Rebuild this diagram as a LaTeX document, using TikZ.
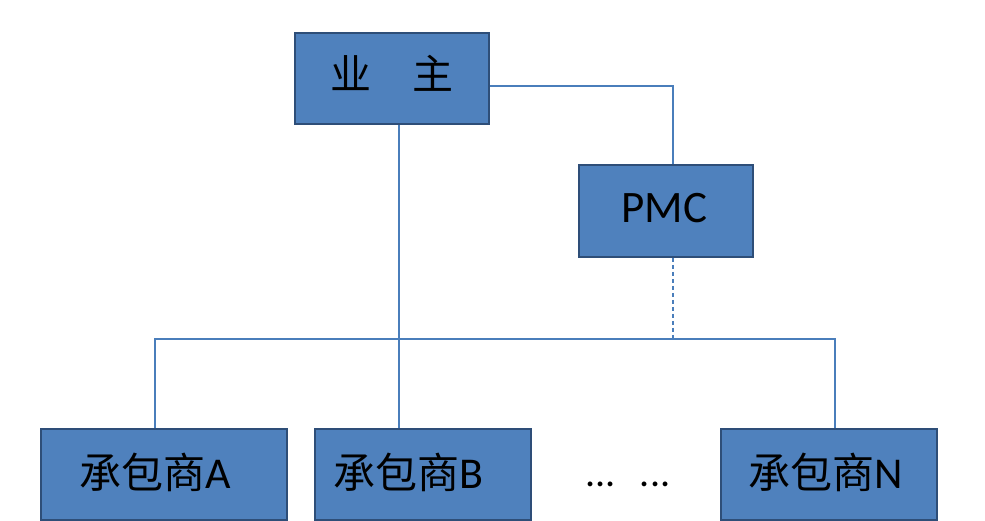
\documentclass[tikz,border=0pt]{standalone}
\usepackage{fontspec}
\setmainfont{Carlito}
\newfontfamily\cjk{Noto Sans CJK SC}
\definecolor{boxfill}{HTML}{4F81BD}
\definecolor{boxline}{HTML}{2E4E78}
\definecolor{conn}{HTML}{4A7EBB}
\begin{document}
\begin{tikzpicture}[x=1pt,y=-1pt,
  box/.style={draw=boxline, line width=1.6pt, fill=boxfill, rectangle, inner sep=0pt},
  lbl/.style={anchor=base, inner sep=0pt, text=black},
  wire/.style={draw=conn, line width=1.3pt},
  dwire/.style={draw=conn, line width=1.3pt, dash pattern=on 4pt off 3pt}]
\useasboundingbox[fill=white] (0,0) rectangle (985,521);
% boxes
\node[box, minimum width=194pt, minimum height=91pt] (yz) at (392,78.5) {};
\node[box, minimum width=174pt, minimum height=92pt] (pmc) at (666,211) {};
\node[box, minimum width=246pt, minimum height=91pt] (ca) at (164,474.5) {};
\node[box, minimum width=216pt, minimum height=91pt] (cb) at (423,474.5) {};
\node[box, minimum width=216pt, minimum height=91pt] (cn) at (829,474.5) {};
% labels
\node[lbl] (tyz) at (392,90) {\fontsize{41}{45}\selectfont\cjk 业\hspace{1em}主};
\node[lbl] (tpmc) at (664.5,223) {\fontsize{45}{50}\selectfont PMC};
\node[lbl] (ta) at (155,488) {{\fontsize{42}{46}\selectfont\cjk 承包商}\fontsize{44}{48}\selectfont A};
\node[lbl] (tb) at (408.5,488) {{\fontsize{42}{46}\selectfont\cjk 承包商}\fontsize{44}{48}\selectfont B};
\node[lbl] (tn) at (825.5,488) {{\fontsize{42}{46}\selectfont\cjk 承包商}\fontsize{44}{48}\selectfont N};
\node[lbl] (dots) at (628,486) {\fontsize{40}{44}\selectfont ...\hspace{24pt}...};
% junction coordinates
\coordinate (r1) at (673,86);
\coordinate (ja) at (155,339);
\coordinate (jb) at (399,339);
\coordinate (jp) at (673,339);
\coordinate (jn) at (835,339);
% connectors
\draw[wire] (yz.east |- r1) -- (r1) -- (pmc.north -| r1);
\draw[wire] (yz.south -| jb) -- (cb.north -| jb);
\draw[wire] (ca.north -| ja) -- (ja) -- (jn) -- (cn.north -| jn);
\draw[dwire] (pmc.south -| jp) -- (jp);
\end{tikzpicture}
\end{document}
